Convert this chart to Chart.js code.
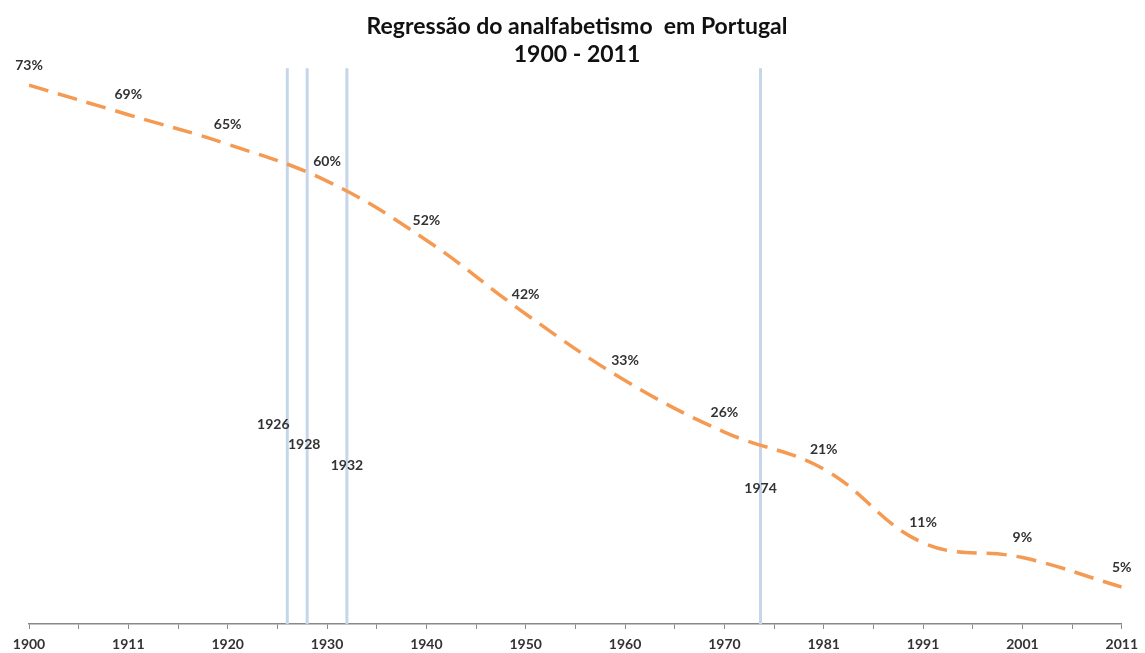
<!DOCTYPE html>
<html>
<head>
<meta charset="utf-8">
<script src="https://cdn.jsdelivr.net/npm/chart.js@4"></script>
<style>
  html, body { margin: 0; padding: 0; background: #fff; }
  #wrap { width: 1145px; height: 653px; position: relative; }
</style>
</head>
<body>
<div id="wrap"><canvas id="chart"></canvas></div>
<script>
const years = ['1900', '1911', '1920', '1930', '1940', '1950', '1960', '1970', '1981', '1991', '2001', '2011'];
const illiteracy = [73, 69, 65, 60, 52, 42, 33, 26, 21, 11, 9, 5]; // % analfabetos
const eventYears = [1926, 1928, 1932, 1974];

// year -> position on the (evenly spaced) category index
function yearToIndex(y) {
    for (let i = 0; i < years.length - 1; i++) {
        const a = +years[i], b = +years[i + 1];
        if (y >= a && y <= b) return i + (y - a) / (b - a);
    }
    return years.length - 1;
}

const FONT = 'Lato, "Open Sans", sans-serif';
const TEXT = '#333333';

const eventLines = {
    id: 'eventLines',
    beforeDatasetsDraw(chart) {
        const { ctx, chartArea, scales } = chart;
        ctx.save();
        ctx.strokeStyle = '#c5d5ea';
        ctx.lineWidth = 3;
        eventYears.forEach(y => {
            const px = scales.x.getPixelForValue(yearToIndex(y));
            ctx.beginPath();
            ctx.moveTo(px, chartArea.top);
            ctx.lineTo(px, chartArea.bottom);
            ctx.stroke();
        });
        // labels for the events
        const labelDx = [-14, -3, 0, 0];
        const labelDy = [200, 180, 159, 136];
        ctx.fillStyle = TEXT;
        ctx.font = 'bold 14px ' + FONT;
        ctx.textAlign = 'center';
        ctx.textBaseline = 'middle';
        eventYears.forEach((y, i) => {
            const px = scales.x.getPixelForValue(yearToIndex(y));
            ctx.fillText(String(y), px + labelDx[i], chartArea.bottom - labelDy[i]);
        });
        ctx.restore();
    },
    afterDatasetsDraw(chart) {
        const { ctx } = chart;
        const meta = chart.getDatasetMeta(0);
        ctx.save();
        ctx.fillStyle = TEXT;
        ctx.font = 'bold 14px ' + FONT;
        ctx.textAlign = 'center';
        ctx.textBaseline = 'middle';
        meta.data.forEach((pt, i) => {
            ctx.fillText(illiteracy[i] + '%', pt.x, pt.y - 20);
        });
        ctx.restore();
    }
};

const ctx = document.getElementById('chart').getContext('2d');
const chart = new Chart(ctx, {
    type: 'line',
    data: {
        datasets: [{
            label: 'Analfabetismo',
            data: illiteracy.map((v, i) => ({ x: i, y: v })),
            borderColor: '#f59a52',
            borderWidth: 3.5,
            borderDash: [20, 10],
            tension: 0.4,
            pointRadius: 0,
            fill: false
        }]
    },
    options: {
        responsive: true,
        maintainAspectRatio: false,
        animation: false,
        layout: { padding: { left: 29, right: 20, top: 0, bottom: 0 } },
        plugins: {
            legend: { display: false },
            tooltip: { enabled: false },
            title: {
                display: true,
                text: ['Regressão do analfabetismo  em Portugal', '1900 - 2011'],
                color: '#111',
                font: { family: FONT, size: 23, weight: 'bold', lineHeight: 1.2 },
                padding: { top: 13, bottom: 0 }
            }
        },
        scales: {
            x: {
                type: 'linear',
                min: 0,
                max: years.length - 1,
                afterFit: s => { s.height = 29; },
                ticks: {
                    stepSize: 0.5,
                    autoSkip: false,
                    maxRotation: 0,
                    padding: 7,
                    color: TEXT,
                    font: { family: FONT, size: 14, weight: 'bold' },
                    callback: v => Number.isInteger(v) ? years[v] : ''
                },
                grid: {
                    drawOnChartArea: false,
                    color: '#888',
                    tickLength: 5
                },
                border: { color: '#888', width: 1.5 }
            },
            y: {
                display: false,
                min: 0,
                max: 75.3
            }
        }
    },
    plugins: [eventLines]
});
</script>
</body>
</html>
